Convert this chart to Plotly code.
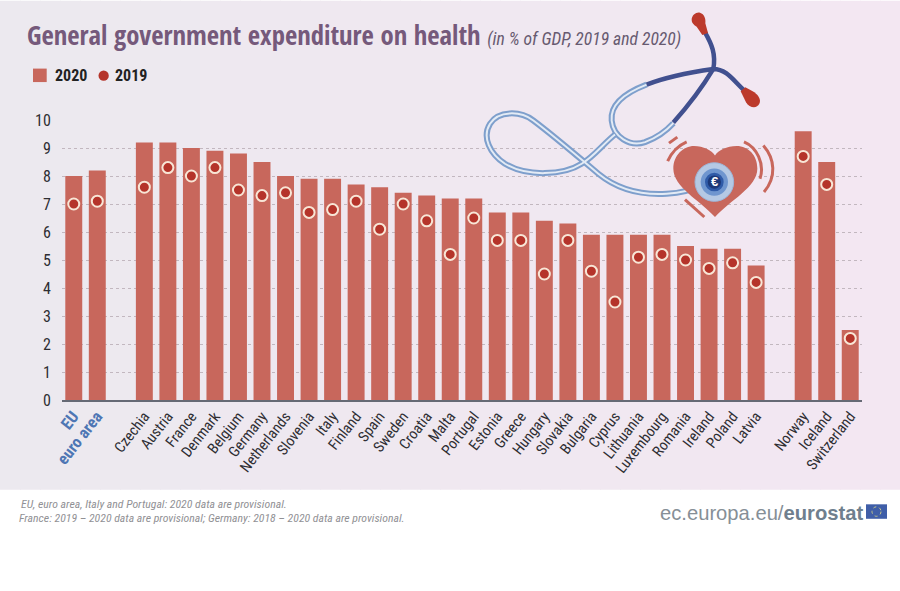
import re
import plotly.graph_objects as go

W, H = 900, 591
ML, MR, MT, MB = 62, 38, 119.5, 191

categories = ["EU", "euro area", "gap1", "Czechia", "Austria", "France", "Denmark", "Belgium", "Germany",
              "Netherlands", "Slovenia", "Italy", "Finland", "Spain", "Sweden", "Croatia", "Malta", "Portugal",
              "Estonia", "Greece", "Hungary", "Slovakia", "Bulgaria", "Cyprus", "Lithuania", "Luxembourg",
              "Romania", "Ireland", "Poland", "Latvia", "gap2", "Norway", "Iceland", "Switzerland"]
values_2020 = [8.0, 8.2, None, 9.2, 9.2, 9.0, 8.9, 8.8, 8.5, 8.0, 7.9, 7.9, 7.7, 7.6, 7.4, 7.3, 7.2, 7.2,
               6.7, 6.7, 6.4, 6.3, 5.9, 5.9, 5.9, 5.9, 5.5, 5.4, 5.4, 4.8, None, 9.6, 8.5, 2.5]
values_2019 = [7.0, 7.1, None, 7.6, 8.3, 8.0, 8.3, 7.5, 7.3, 7.4, 6.7, 6.8, 7.1, 6.1, 7.0, 6.4, 5.2, 6.5,
               5.7, 5.7, 4.5, 5.7, 4.6, 3.5, 5.1, 5.2, 5.0, 4.7, 4.9, 4.2, None, 8.7, 7.7, 2.2]
y_ticks = list(range(0, 11))

BAR = "#C8675C"
DOT = "#B5342A"
HALO = "#F8E6D6"
NARROW = "Roboto Condensed, Open Sans Condensed, sans-serif"
HEAD = "Open Sans Condensed, Roboto Condensed, sans-serif"


def label(c):
    if c.startswith("gap"):
        return ""
    if c in ("EU", "euro area"):
        return f'<span style="color:#4E76B4;font-size:16.5px"><b>{c}</b></span>'
    return c


def fx(p):
    return (p - ML) / (W - ML - MR)


def fy(p):
    return 1 - (p - MT) / (H - MT - MB)


def zpath(d):
    """Convert a path written in pixels of the 3x zoomed crop at (470,0) to paper coordinates."""
    tok = re.findall(r"[A-Za-z]|-?[\d.]+", d)
    out, isx = [], True
    for t in tok:
        if t.isalpha():
            out.append(t)
            isx = True
        else:
            v = float(t)
            out.append(f"{fx(470 + v / 3):.5f}" if isx else f"{fy(v / 3):.5f}")
            isx = not isx
    return " ".join(out)


def stroke(d, color, width):
    return dict(type="path", xref="paper", yref="paper", path=zpath(d), line=dict(color=color, width=width),
                fillcolor="rgba(0,0,0,0)", layer="above")


def solid(d, color):
    return dict(type="path", xref="paper", yref="paper", path=zpath(d), line=dict(width=0), fillcolor=color,
                layer="above")


def circle(cx, cy, r, color, line=None):
    return dict(type="circle", xref="paper", yref="paper", x0=fx(470 + (cx - r) / 3), x1=fx(470 + (cx + r) / 3),
                y0=fy((cy + r) / 3), y1=fy((cy - r) / 3), fillcolor=color,
                line=dict(width=1 if line else 0, color=line or color), layer="above")


shapes = []
# background gradient strips
STEPS = 45
for i in range(STEPS):
    t = i / (STEPS - 1)
    c = tuple(round(a + (b - a) * t) for a, b in zip((236, 233, 239), (243, 231, 242)))
    shapes.append(dict(type="rect", xref="paper", yref="paper", x0=fx(i * W / STEPS), x1=fx((i + 1) * W / STEPS + 1),
                       y0=fy(490), y1=fy(0), fillcolor=f"rgb{c}", line=dict(width=0), layer="below"))

# stethoscope
LIGHT_TUBES = ["M530,252 C470,275 420,310 425,360 C430,410 480,440 525,425 C560,412 590,390 610,368",
               "M435,402 C400,430 370,470 335,490 C280,525 170,530 105,490 C60,460 35,410 60,370 C85,330 150,330 190,360 "
               "C250,405 320,465 385,520 C440,565 510,585 590,580 C630,578 665,570 695,555"]
for d in LIGHT_TUBES:
    shapes.append(stroke(d, "#7E9FCC", 6))
    shapes.append(stroke(d, "#E3EBF5", 2))
DARK_TUBES = ["M530,252 C590,228 660,215 730,205 C770,205 790,240 825,272",
              "M610,366 C660,310 700,255 730,205 C738,160 725,130 705,95"]
for d in DARK_TUBES:
    shapes.append(stroke(d, "#41508F", 4.5))
shapes.append(solid("M665,58 C665,42 680,33 690,36 C703,40 708,55 706,68 L714,97 L697,103 L680,78 C670,72 665,66 665,58 Z",
                    "#BC3A2C"))
shapes.append(solid("M826,260 L812,272 L828,305 C838,322 860,326 868,310 C875,295 862,280 848,272 Z", "#BC3A2C"))

# heart and pulses
shapes.append(solid("M735,650 C690,600 610,560 610,505 C610,465 640,437 672,437 C700,437 725,450 735,465 "
                    "C745,450 770,437 800,437 C835,437 862,465 862,505 C862,560 780,600 735,650 Z", BAR))
for d in ["M593,482 C605,455 625,435 650,424", "M597,428 L622,410", "M822,424 C860,440 885,490 870,535",
          "M880,435 C915,475 920,530 882,575", "M645,598 L703,650"]:
    shapes.append(stroke(d, BAR, 3))
shapes.append(circle(733, 545, 58, "#B5C9E4", "#9DB6D9"))
shapes.append(circle(733, 545, 41, "#6F96CF"))
shapes.append(circle(733, 545, 28, "#2F5BA8"))
shapes.append(circle(733, 545, 20, "#1C3878"))

# legend swatches
shapes.append(dict(type="rect", xref="paper", yref="paper", x0=fx(33), x1=fx(46.7), y0=fy(81.5), y1=fy(68),
                   fillcolor=BAR, line=dict(width=0), layer="above"))
shapes.append(dict(type="circle", xref="paper", yref="paper", x0=fx(98.5), x1=fx(108.8), y0=fy(80.2), y1=fy(69.9),
                   fillcolor=DOT, line=dict(width=0), layer="above"))

# EU flag
shapes.append(dict(type="rect", xref="paper", yref="paper", x0=fx(866), x1=fx(887), y0=fy(519), y1=fy(504.5),
                   fillcolor="#3F5EA8", line=dict(width=0), layer="above"))
shapes.append(dict(type="circle", xref="paper", yref="paper", x0=fx(872), x1=fx(881), y0=fy(516.5), y1=fy(507),
                   fillcolor="rgba(0,0,0,0)", line=dict(width=1, color="#C9C98A", dash="dot"), layer="above"))

fig = go.Figure()
fig.add_bar(x=categories, y=values_2020, name="2020", marker=dict(color=BAR, line=dict(width=0)), width=0.72)
fig.add_scatter(x=categories, y=values_2019, mode="markers", name="2019",
                marker=dict(color=DOT, size=11, line=dict(color=HALO, width=2)))


def note(x, y, text, size, color, family=NARROW, anchor="left"):
    return dict(xref="paper", yref="paper", x=fx(x), y=fy(y), text=text, showarrow=False, xanchor=anchor,
                yanchor="middle", align="left", font=dict(size=size, color=color, family=family))


annotations = [
    note(53, 74.5, "<b>2020</b>", 16, "#222222"),
    note(113, 74.5, "<b>2019</b>", 16, "#222222"),
    note(18.5, 504.5, "<i>EU, euro area, Italy and Portugal: 2020 data are provisional.</i>", 11.75, "#919195"),
    note(16.5, 518, "<i>France: 2019 – 2020 data are provisional; Germany: 2018 – 2020 data are provisional.</i>", 11.75,
         "#919195"),
    note(865, 513, '<span style="color:#868F97">ec.europa.eu/</span><b>eurostat</b>', 20.2, "#6F7F8E",
         family="Liberation Sans, Arial, sans-serif", anchor="right"),
    dict(xref="paper", yref="paper", x=fx(714.5), y=fy(181.5), text="<b>€</b>", showarrow=False, xanchor="center",
         yanchor="middle", font=dict(size=13, color="white", family="Liberation Sans, Arial, sans-serif")),
]

fig.update_layout(
    width=W, height=H, autosize=False, showlegend=False,
    margin=dict(l=ML, r=MR, t=MT, b=MB, pad=0),
    paper_bgcolor="white", plot_bgcolor="rgba(0,0,0,0)",
    font=dict(family=NARROW, color="#333333"),
    title=dict(
        text='<b>General government expenditure on health</b> '
             f'<i><span style="font-size:17.6px;color:#675A70;font-family:{NARROW}">(in % of GDP, 2019 and 2020)</span></i>',
        x=27 / W, xref="container", xanchor="left", y=1 - 36 / H, yref="container", yanchor="middle",
        font=dict(size=26.7, color="#75597B", family=HEAD)),
    xaxis=dict(type="category", categoryorder="array", categoryarray=categories, tickvals=categories,
               ticktext=[label(c) for c in categories], tickangle=-52, range=[-0.5, 33.5],
               tickfont=dict(size=15, color="#2E2E33", family=NARROW), showgrid=False, ticks="",
               showline=True, linecolor="#666A75", linewidth=1.5),
    yaxis=dict(range=[0, 10], tickvals=y_ticks, ticks="outside", ticklen=7, tickcolor="rgba(0,0,0,0)",
               tickfont=dict(size=16, color="#2E2E33", family=NARROW), showgrid=True, gridcolor="#C2B7BF",
               griddash="dot", gridwidth=1, zeroline=False, showline=False),
    shapes=shapes, annotations=annotations,
)
fig.write_html("out.html", config=dict(displayModeBar=False), post_script="document.body.style.margin='0';")
